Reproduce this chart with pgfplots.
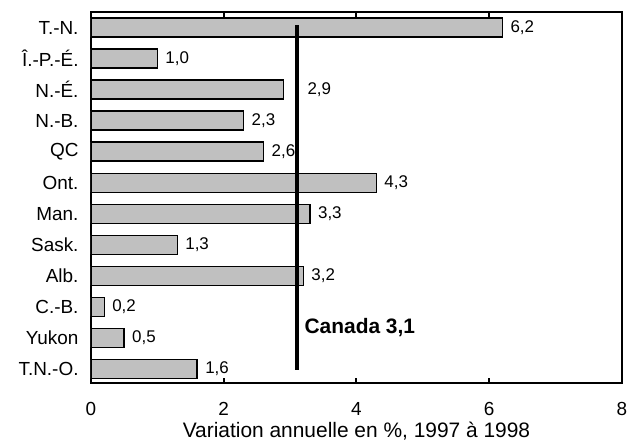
\documentclass[border=0pt]{standalone}
\usepackage{pgfplots}
\pgfplotsset{compat=1.18}
\usepackage{fontspec}
\setmainfont{Liberation Sans}
\definecolor{bargray}{RGB}{192,192,192}
\begin{document}
\fontsize{19}{22}\selectfont
\begin{tikzpicture}
\begin{axis}[
  at={(0,0)}, anchor=south west,
  scale only axis,
  width=531bp, height=371bp,
  xmin=0, xmax=8,
  ymin=-0.45, ymax=11.5,
  xtick={0,2,4,6,8},
  xticklabels={0,2,4,6,8},
  xtick pos=both,
  tick align=inside,
  major tick length=5bp,
  xtick style={line width=2bp, black},
  ytick={0,...,11},
  yticklabels={T.N.-O.,Yukon,C.-B.,Alb.,Sask.,Man.,Ont.,QC,N.-B.,N.-É.,Î.-P.-É.,T.-N.},
  ytick style={draw=none},
  ticklabel style={font=\fontsize{19}{22}\selectfont},
  yticklabel style={xshift=-6bp},
  xticklabel style={yshift=-13bp},
  axis line style={line width=2.5bp},
  xlabel={Variation annuelle en \%, 1997 à 1998},
  xlabel style={font=\fontsize{21}{24}\selectfont, at={(axis description cs:0.5,0)}, anchor=base, yshift=-54bp},
  /pgf/number format/assume math mode=true,
  /pgf/number format/.cd, use comma, fixed, fixed zerofill, precision=1,
]
\addplot[xbar, bar shift=0pt, bar width=19bp, fill=bargray, draw=black, line width=1.5bp,
  nodes near coords, every node near coord/.append style={font=\fontsize{17}{20}\selectfont, xshift=1bp}]
  coordinates {
  (6.2,11) (1.0,10) (2.3,8) (2.6,7) (4.3,6) (3.3,5)
  (1.3,4) (3.2,3) (0.2,2) (0.5,1) (1.6,0)
  };
\addplot[xbar, bar shift=0pt, bar width=19bp, fill=bargray, draw=black, line width=1.5bp,
  nodes near coords, every node near coord/.append style={font=\fontsize{17}{20}\selectfont, xshift=17bp}]
  coordinates {(2.9,9)};
\addplot[sharp plot, no marks, black, line width=3.5bp] coordinates {(3.1,-0.03) (3.1,11.08)};
\node[anchor=west, font=\fontsize{21}{24}\selectfont\bfseries] at (axis cs:3.12,1.35) {Canada 3,1};
\end{axis}
\pgfresetboundingbox
\path[use as bounding box] (-91bp,-59bp) rectangle (544bp,383bp);
\end{tikzpicture}
\end{document}
